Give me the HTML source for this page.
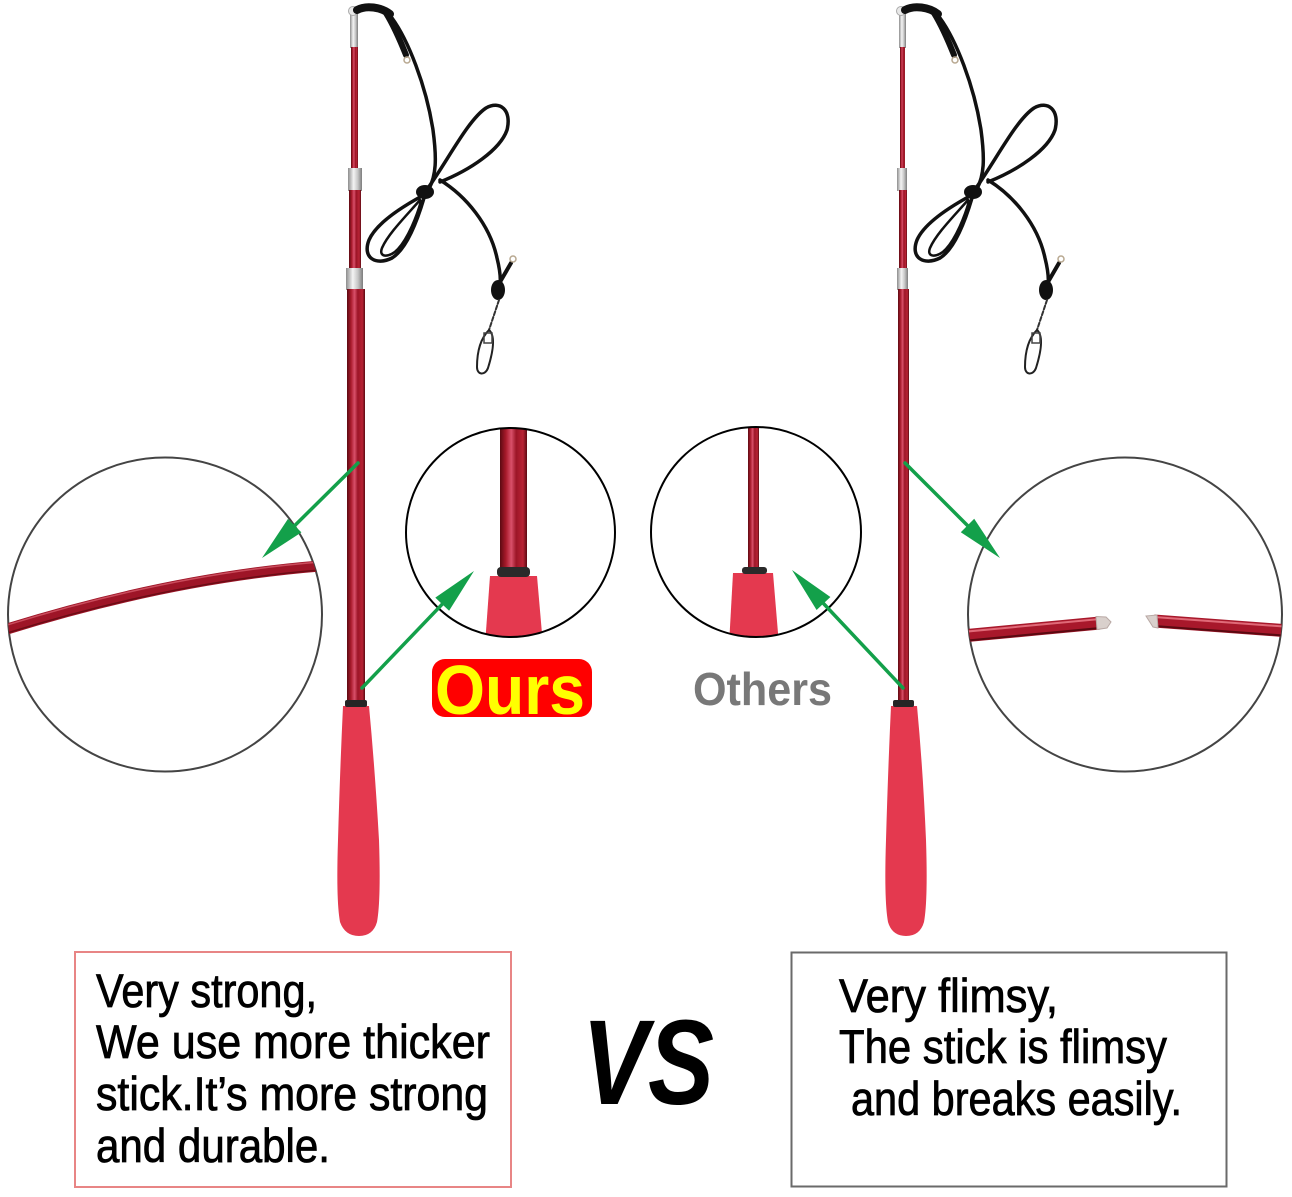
<!DOCTYPE html>
<html>
<head>
<meta charset="utf-8">
<style>
  html,body{margin:0;padding:0;background:#fff;}
  svg{display:block;}
</style>
</head>
<body>
<svg width="1292" height="1197" viewBox="0 0 1292 1197" xmlns="http://www.w3.org/2000/svg">
  <defs>
    <linearGradient id="rod" x1="0" y1="0" x2="1" y2="0">
      <stop offset="0" stop-color="#5c0a12"/>
      <stop offset="0.22" stop-color="#a81a2b"/>
      <stop offset="0.42" stop-color="#d9506a"/>
      <stop offset="0.6" stop-color="#9c1527"/>
      <stop offset="0.85" stop-color="#b82335"/>
      <stop offset="1" stop-color="#5c0a12"/>
    </linearGradient>
    <linearGradient id="silver" x1="0" y1="0" x2="1" y2="0">
      <stop offset="0" stop-color="#8d8d8d"/>
      <stop offset="0.4" stop-color="#f4f4f4"/>
      <stop offset="0.7" stop-color="#c6c6c6"/>
      <stop offset="1" stop-color="#7d7d7d"/>
    </linearGradient>
    <clipPath id="cBigL"><circle cx="165" cy="614.5" r="157"/></clipPath>
    <clipPath id="cBigR"><circle cx="1125" cy="614.5" r="157"/></clipPath>
    <clipPath id="cSmL"><circle cx="510.5" cy="532.5" r="104.5"/></clipPath>
    <clipPath id="cSmR"><circle cx="756" cy="532" r="105"/></clipPath>
  </defs>

  <rect width="1292" height="1197" fill="#fff"/>

  <!-- Big circles -->
  <circle cx="165" cy="614.5" r="157" fill="#fff" stroke="#444" stroke-width="2"/>
  <g clip-path="url(#cBigL)">
    <path d="M4,630 Q170,578 320,566" fill="none" stroke="#9e1527" stroke-width="11"/>
    <path d="M4,626 Q170,574 320,562" fill="none" stroke="#d45a6a" stroke-width="1.5" opacity="0.8"/>
    <path d="M4,634 Q170,582 320,570" fill="none" stroke="#5e0a12" stroke-width="1.5" opacity="0.8"/>
  </g>

  <circle cx="1125" cy="614.5" r="157" fill="#fff" stroke="#444" stroke-width="2"/>
  <g clip-path="url(#cBigR)">
    <line x1="962" y1="636" x2="1100" y2="623" stroke="#a8182b" stroke-width="13"/>
    <line x1="962" y1="632" x2="1100" y2="619" stroke="#e06a78" stroke-width="2"/>
    <line x1="962" y1="641" x2="1100" y2="628" stroke="#5a0911" stroke-width="2"/>
    <polygon points="1096,616.5 1106,617 1111,622 1107,628 1097,629.5" fill="#d9d0cc" stroke="#b9a9a5" stroke-width="1"/>
    <line x1="1154" y1="621" x2="1290" y2="631" stroke="#a8182b" stroke-width="13"/>
    <line x1="1154" y1="617" x2="1290" y2="627" stroke="#e06a78" stroke-width="2"/>
    <line x1="1154" y1="626" x2="1290" y2="636" stroke="#5a0911" stroke-width="2"/>
    <polygon points="1146,616 1157,615 1158,628 1153,627" fill="#d9d0cc" stroke="#b9a9a5" stroke-width="1"/>
  </g>

  <!-- Small circles -->
  <circle cx="510.5" cy="532.5" r="104.5" fill="#fff"/>
  <g clip-path="url(#cSmL)">
    <rect x="500" y="420" width="27" height="152" fill="url(#rod)"/>
    <path d="M490,576 L537,576 L543,645 L485,645 Z" fill="#e4394f"/>
    <rect x="497" y="567" width="33" height="10" rx="4" fill="#2a2a2a"/>
  </g>
  <circle cx="510.5" cy="532.5" r="104.5" fill="none" stroke="#000" stroke-width="2"/>

  <circle cx="756" cy="532" r="105" fill="#fff"/>
  <g clip-path="url(#cSmR)">
    <rect x="748" y="420" width="11" height="152" fill="url(#rod)"/>
    <path d="M733,573 L773,573 L779,645 L729,645 Z" fill="#e4394f"/>
    <rect x="742" y="567" width="25" height="7" rx="3" fill="#2a2a2a"/>
  </g>
  <circle cx="756" cy="532" r="105" fill="none" stroke="#000" stroke-width="2"/>

  <!-- LEFT POLE -->
  <g>
    <rect x="350" y="8" width="8" height="40" fill="url(#silver)"/>
    <circle cx="353" cy="11" r="4.5" fill="#e8e8e8" stroke="#aaa" stroke-width="1"/>
    <rect x="351" y="47" width="7" height="123" fill="url(#rod)"/>
    <rect x="348" y="168" width="14" height="23" fill="url(#silver)"/>
    <rect x="349" y="190" width="12" height="79" fill="url(#rod)"/>
    <rect x="346" y="268" width="17" height="22" fill="url(#silver)"/>
    <rect x="347" y="289" width="18" height="414" fill="url(#rod)"/>
    <path d="M343,706 L369,706 Q375,770 379,840 Q381,900 377,922 Q373,936 359,936 Q345,936 340,922 Q336,900 338,840 Q340,770 343,706 Z" fill="#e4394f"/>
    <rect x="345" y="700" width="22" height="7" rx="2" fill="#252525"/>
  </g>

  <!-- LEFT CORD -->
  <g fill="none" stroke="#111" stroke-linecap="round">
    <path d="M357,10 C366,5 381,7 390,14" stroke-width="8"/>
    <path d="M386,13 C394,26 400,40 406,55" stroke-width="6"/>
    <circle cx="407" cy="60" r="3" stroke="#b8a890" stroke-width="1.5"/>
    <path d="M392,18 C408,40 426,85 433,130 C437,160 436,175 429,189" stroke-width="3.5"/>
    <path d="M428,188 C448,160 468,120 486,108 C500,100 512,110 507,130 C500,150 470,170 440,182" stroke-width="3.5"/>
    <path d="M422,196 C400,208 376,224 369,240 C362,258 376,266 392,258 C405,250 416,225 424,198" stroke-width="3.5"/>
    <path d="M420,200 C406,216 388,234 382,248 C378,258 390,258 398,249 C408,238 417,216 421,201" stroke-width="2.5"/>
    <ellipse cx="425" cy="192" rx="9" ry="7" fill="#111" stroke="none"/>
    <path d="M440,180 C466,196 490,225 497,258 C501,274 501,284 499,290" stroke-width="3.5"/>
    <ellipse cx="498" cy="290" rx="7" ry="10" fill="#111" stroke="none"/>
    <path d="M500,282 L511,263" stroke-width="4"/>
    <circle cx="513" cy="259" r="3" stroke="#b8a890" stroke-width="1.5"/>
    <path d="M499,300 L489,330" stroke="#333" stroke-width="2" stroke-dasharray="4,2"/>
    <path d="M489,330 C496,336 493,352 488,368 C485,376 477,375 477,367 C477,350 481,338 489,330 Z" stroke="#222" stroke-width="2"/>
    <rect x="484" y="333" width="8" height="10" stroke="#444" stroke-width="1.5"/>
  </g>

  <!-- RIGHT POLE -->
  <g>
    <rect x="899" y="8" width="7" height="40" fill="url(#silver)"/>
    <circle cx="901" cy="11" r="4.5" fill="#e8e8e8" stroke="#aaa" stroke-width="1"/>
    <rect x="900" y="47" width="5" height="123" fill="url(#rod)"/>
    <rect x="897" y="168" width="10" height="23" fill="url(#silver)"/>
    <rect x="899" y="190" width="8" height="79" fill="url(#rod)"/>
    <rect x="897" y="268" width="11" height="22" fill="url(#silver)"/>
    <rect x="898" y="289" width="11" height="414" fill="url(#rod)"/>
    <path d="M891,706 L917,706 Q923,770 926,840 Q928,900 924,922 Q920,936 906,936 Q892,936 888,922 Q884,900 886,840 Q888,770 891,706 Z" fill="#e4394f"/>
    <rect x="893" y="700" width="21" height="7" rx="2" fill="#252525"/>
  </g>

  <!-- RIGHT CORD -->
  <g transform="translate(548,0)" fill="none" stroke="#111" stroke-linecap="round">
    <path d="M357,10 C366,5 381,7 390,14" stroke-width="8"/>
    <path d="M386,13 C394,26 400,40 406,55" stroke-width="6"/>
    <circle cx="407" cy="60" r="3" stroke="#b8a890" stroke-width="1.5"/>
    <path d="M392,18 C408,40 426,85 433,130 C437,160 436,175 429,189" stroke-width="3.5"/>
    <path d="M428,188 C448,160 468,120 486,108 C500,100 512,110 507,130 C500,150 470,170 440,182" stroke-width="3.5"/>
    <path d="M422,196 C400,208 376,224 369,240 C362,258 376,266 392,258 C405,250 416,225 424,198" stroke-width="3.5"/>
    <path d="M420,200 C406,216 388,234 382,248 C378,258 390,258 398,249 C408,238 417,216 421,201" stroke-width="2.5"/>
    <ellipse cx="425" cy="192" rx="9" ry="7" fill="#111" stroke="none"/>
    <path d="M440,180 C466,196 490,225 497,258 C501,274 501,284 499,290" stroke-width="3.5"/>
    <ellipse cx="498" cy="290" rx="7" ry="10" fill="#111" stroke="none"/>
    <path d="M500,282 L511,263" stroke-width="4"/>
    <circle cx="513" cy="259" r="3" stroke="#b8a890" stroke-width="1.5"/>
    <path d="M499,300 L489,330" stroke="#333" stroke-width="2" stroke-dasharray="4,2"/>
    <path d="M489,330 C496,336 493,352 488,368 C485,376 477,375 477,367 C477,350 481,338 489,330 Z" stroke="#222" stroke-width="2"/>
    <rect x="484" y="333" width="8" height="10" stroke="#444" stroke-width="1.5"/>
  </g>

  <!-- ARROWS -->
  <g stroke="#13a04a" stroke-width="3.5" fill="#13a04a" stroke-linecap="round">
    <line x1="358" y1="463" x2="294.7" y2="525.6"/>
    <polygon points="262,558 301.4,532.4 294.7,525.6 288,518.9" stroke="none"/>

    <line x1="362" y1="688" x2="442.2" y2="604.2"/>
    <polygon points="474,571 449.1,610.8 442.2,604.2 435.3,597.6" stroke="none"/>

    <line x1="905" y1="463" x2="967.5" y2="525.5"/>
    <polygon points="1000,558 960.8,532.2 967.5,525.5 974.2,518.8" stroke="none"/>

    <line x1="903" y1="688" x2="823.5" y2="603.5"/>
    <polygon points="792,570 830.4,597 823.5,603.5 816.6,610" stroke="none"/>
  </g>

  <!-- Ours / Others labels -->
  <rect x="432" y="659" width="160" height="58" rx="13" fill="#ff0000"/>
  <text x="435" y="714" font-family="Liberation Sans, sans-serif" font-weight="bold" font-size="70" fill="#ffff00" textLength="150" lengthAdjust="spacingAndGlyphs">Ours</text>
  <text x="693" y="705" font-family="Liberation Sans, sans-serif" font-weight="bold" font-size="46" fill="#787878" textLength="139" lengthAdjust="spacingAndGlyphs">Others</text>

  <!-- Boxes -->
  <rect x="75" y="952" width="436" height="235" fill="none" stroke="#e88585" stroke-width="2"/>
  <rect x="791.5" y="952.5" width="435" height="234" fill="none" stroke="#6a6a6a" stroke-width="2"/>

  <g font-family="Liberation Sans, sans-serif" font-size="47" fill="#000" stroke="#000" stroke-width="0.8">
    <text x="96" y="1007" textLength="221" lengthAdjust="spacingAndGlyphs">Very strong,</text>
    <text x="96" y="1058" textLength="394" lengthAdjust="spacingAndGlyphs">We use more thicker</text>
    <text x="96" y="1110" textLength="392" lengthAdjust="spacingAndGlyphs">stick.It’s more strong</text>
    <text x="96" y="1162" textLength="234" lengthAdjust="spacingAndGlyphs">and durable.</text>

    <text x="839" y="1012" textLength="219" lengthAdjust="spacingAndGlyphs">Very flimsy,</text>
    <text x="839" y="1063" textLength="328" lengthAdjust="spacingAndGlyphs">The stick is flimsy</text>
    <text x="851" y="1115" textLength="331" lengthAdjust="spacingAndGlyphs">and breaks easily.</text>
  </g>

  <text x="582" y="1104" font-family="Liberation Sans, sans-serif" font-style="italic" font-weight="bold" font-size="121" fill="#000" textLength="132" lengthAdjust="spacingAndGlyphs">VS</text>
</svg>
</body>
</html>
